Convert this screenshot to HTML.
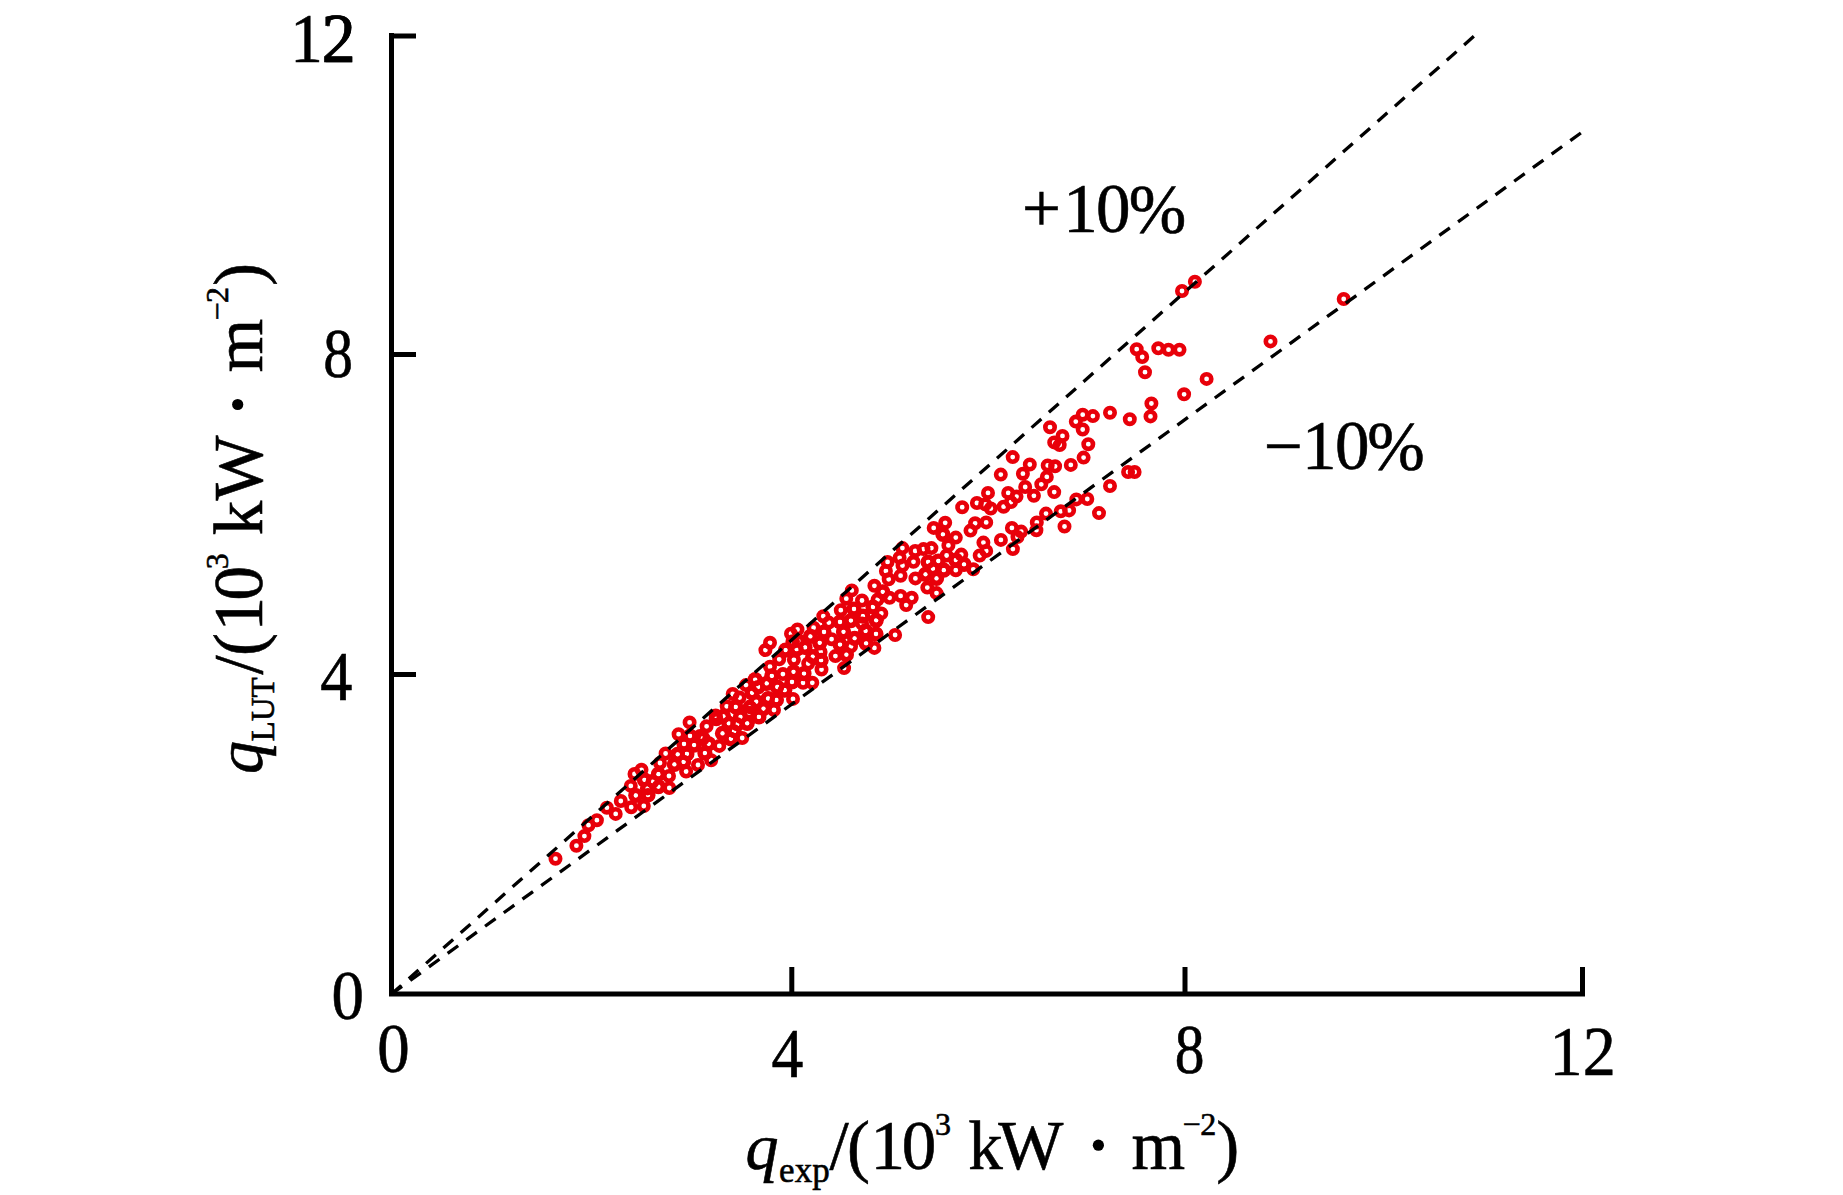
<!DOCTYPE html>
<html><head><meta charset="utf-8"><style>
html,body{margin:0;padding:0;background:#fff;}
body{width:1843px;height:1195px;overflow:hidden;}
svg{display:block;}
text{font-family:"Liberation Serif",serif;fill:#000;stroke:#000;stroke-width:0.6px;-webkit-font-smoothing:antialiased;}
</style></head><body>
<svg width="1843" height="1195" viewBox="0 0 1843 1195">

<path d="M391.5 33 V994 H1585" fill="none" stroke="#000" stroke-width="5" stroke-linejoin="miter"/>
<path d="M389 36 H416 M389 354.5 H416 M389 674.6 H416" stroke="#000" stroke-width="5"/>
<path d="M791.8 967 V994 M1185 967 V994 M1582.5 967 V994" stroke="#000" stroke-width="5"/>

<g fill="#e8000a">
<circle cx="635.8" cy="795.5" r="7.6"/>
<circle cx="647.5" cy="788.4" r="7.6"/>
<circle cx="658.4" cy="786.7" r="7.6"/>
<circle cx="658.4" cy="774.2" r="7.6"/>
<circle cx="648.0" cy="795.0" r="7.6"/>
<circle cx="674.4" cy="764.4" r="7.6"/>
<circle cx="686.9" cy="753.9" r="7.6"/>
<circle cx="704.9" cy="753.1" r="7.6"/>
<circle cx="694.1" cy="745.1" r="7.6"/>
<circle cx="708.7" cy="743.8" r="7.6"/>
<circle cx="700.3" cy="736.7" r="7.6"/>
<circle cx="722.5" cy="733.4" r="7.6"/>
<circle cx="730.9" cy="738.8" r="7.6"/>
<circle cx="728.8" cy="723.3" r="7.6"/>
<circle cx="747.2" cy="723.3" r="7.6"/>
<circle cx="737.2" cy="724.2" r="7.6"/>
<circle cx="683.6" cy="761.8" r="7.6"/>
<circle cx="677.7" cy="754.3" r="7.6"/>
<circle cx="734.1" cy="731.2" r="7.6"/>
<circle cx="740.5" cy="716.9" r="7.6"/>
<circle cx="723.5" cy="716.4" r="7.6"/>
<circle cx="750.2" cy="707.2" r="7.6"/>
<circle cx="756.2" cy="701.7" r="7.6"/>
<circle cx="763.5" cy="708.6" r="7.6"/>
<circle cx="758.9" cy="716.9" r="7.6"/>
<circle cx="758.0" cy="687.0" r="7.6"/>
<circle cx="768.1" cy="698.5" r="7.6"/>
<circle cx="776.4" cy="699.9" r="7.6"/>
<circle cx="777.3" cy="687.0" r="7.6"/>
<circle cx="784.7" cy="690.2" r="7.6"/>
<circle cx="771.8" cy="675.9" r="7.6"/>
<circle cx="793.5" cy="671.8" r="7.6"/>
<circle cx="804.0" cy="673.6" r="7.6"/>
<circle cx="812.8" cy="656.6" r="7.6"/>
<circle cx="821.1" cy="660.3" r="7.6"/>
<circle cx="846.4" cy="654.7" r="7.6"/>
<circle cx="796.7" cy="649.2" r="7.6"/>
<circle cx="805.0" cy="647.4" r="7.6"/>
<circle cx="819.7" cy="642.8" r="7.6"/>
<circle cx="840.0" cy="644.6" r="7.6"/>
<circle cx="785.6" cy="650.1" r="7.6"/>
<circle cx="793.0" cy="641.8" r="7.6"/>
<circle cx="755.2" cy="679.6" r="7.6"/>
<circle cx="703.0" cy="738.5" r="7.6"/>
<circle cx="798.4" cy="641.0" r="7.6"/>
<circle cx="810.4" cy="636.4" r="7.6"/>
<circle cx="866.1" cy="643.3" r="7.6"/>
<circle cx="843.5" cy="631.8" r="7.6"/>
<circle cx="865.6" cy="630.9" r="7.6"/>
<circle cx="862.9" cy="616.2" r="7.6"/>
<circle cx="876.2" cy="620.3" r="7.6"/>
<circle cx="873.0" cy="607.0" r="7.6"/>
<circle cx="882.7" cy="591.8" r="7.6"/>
<circle cx="925.5" cy="574.3" r="7.6"/>
<circle cx="932.9" cy="568.7" r="7.6"/>
<circle cx="936.5" cy="578.4" r="7.6"/>
<circle cx="854.6" cy="638.3" r="7.6"/>
<circle cx="928.1" cy="562.0" r="7.6"/>
<circle cx="938.3" cy="561.0" r="7.6"/>
<circle cx="942.9" cy="534.3" r="7.6"/>
<circle cx="955.8" cy="560.1" r="7.6"/>
<circle cx="964.0" cy="564.3" r="7.6"/>
<circle cx="943.8" cy="570.2" r="7.6"/>
<circle cx="735.7" cy="706.9" r="7.6"/>
<circle cx="749.1" cy="712.7" r="7.6"/>
<circle cx="752.1" cy="692.8" r="7.6"/>
<circle cx="716.3" cy="718.6" r="7.6"/>
<circle cx="766.7" cy="683.4" r="7.6"/>
<circle cx="652.6" cy="781.6" r="7.6"/>
<circle cx="644.4" cy="779.8" r="7.6"/>
<circle cx="850.9" cy="620.6" r="7.6"/>
<circle cx="876.0" cy="634.0" r="7.6"/>
<circle cx="854.0" cy="609.0" r="7.6"/>
<circle cx="824.0" cy="632.0" r="7.6"/>
<circle cx="840.0" cy="622.0" r="7.6"/>
<circle cx="792.0" cy="682.0" r="7.6"/>
<circle cx="684.0" cy="744.0" r="7.6"/>
<circle cx="690.0" cy="736.0" r="7.6"/>
</g>
<g fill="#fff">
<circle cx="635.8" cy="795.5" r="2.4"/>
<circle cx="647.5" cy="788.4" r="2.4"/>
<circle cx="658.4" cy="786.7" r="2.4"/>
<circle cx="658.4" cy="774.2" r="2.4"/>
<circle cx="648.0" cy="795.0" r="2.4"/>
<circle cx="674.4" cy="764.4" r="2.4"/>
<circle cx="686.9" cy="753.9" r="2.4"/>
<circle cx="704.9" cy="753.1" r="2.4"/>
<circle cx="694.1" cy="745.1" r="2.4"/>
<circle cx="708.7" cy="743.8" r="2.4"/>
<circle cx="700.3" cy="736.7" r="2.4"/>
<circle cx="722.5" cy="733.4" r="2.4"/>
<circle cx="730.9" cy="738.8" r="2.4"/>
<circle cx="728.8" cy="723.3" r="2.4"/>
<circle cx="747.2" cy="723.3" r="2.4"/>
<circle cx="737.2" cy="724.2" r="2.4"/>
<circle cx="683.6" cy="761.8" r="2.4"/>
<circle cx="677.7" cy="754.3" r="2.4"/>
<circle cx="734.1" cy="731.2" r="2.4"/>
<circle cx="740.5" cy="716.9" r="2.4"/>
<circle cx="723.5" cy="716.4" r="2.4"/>
<circle cx="750.2" cy="707.2" r="2.4"/>
<circle cx="756.2" cy="701.7" r="2.4"/>
<circle cx="763.5" cy="708.6" r="2.4"/>
<circle cx="758.9" cy="716.9" r="2.4"/>
<circle cx="758.0" cy="687.0" r="2.4"/>
<circle cx="768.1" cy="698.5" r="2.4"/>
<circle cx="776.4" cy="699.9" r="2.4"/>
<circle cx="777.3" cy="687.0" r="2.4"/>
<circle cx="784.7" cy="690.2" r="2.4"/>
<circle cx="771.8" cy="675.9" r="2.4"/>
<circle cx="793.5" cy="671.8" r="2.4"/>
<circle cx="804.0" cy="673.6" r="2.4"/>
<circle cx="812.8" cy="656.6" r="2.4"/>
<circle cx="821.1" cy="660.3" r="2.4"/>
<circle cx="846.4" cy="654.7" r="2.4"/>
<circle cx="796.7" cy="649.2" r="2.4"/>
<circle cx="805.0" cy="647.4" r="2.4"/>
<circle cx="819.7" cy="642.8" r="2.4"/>
<circle cx="840.0" cy="644.6" r="2.4"/>
<circle cx="785.6" cy="650.1" r="2.4"/>
<circle cx="793.0" cy="641.8" r="2.4"/>
<circle cx="755.2" cy="679.6" r="2.4"/>
<circle cx="703.0" cy="738.5" r="2.4"/>
<circle cx="798.4" cy="641.0" r="2.4"/>
<circle cx="810.4" cy="636.4" r="2.4"/>
<circle cx="866.1" cy="643.3" r="2.4"/>
<circle cx="843.5" cy="631.8" r="2.4"/>
<circle cx="865.6" cy="630.9" r="2.4"/>
<circle cx="862.9" cy="616.2" r="2.4"/>
<circle cx="876.2" cy="620.3" r="2.4"/>
<circle cx="873.0" cy="607.0" r="2.4"/>
<circle cx="882.7" cy="591.8" r="2.4"/>
<circle cx="925.5" cy="574.3" r="2.4"/>
<circle cx="932.9" cy="568.7" r="2.4"/>
<circle cx="936.5" cy="578.4" r="2.4"/>
<circle cx="854.6" cy="638.3" r="2.4"/>
<circle cx="928.1" cy="562.0" r="2.4"/>
<circle cx="938.3" cy="561.0" r="2.4"/>
<circle cx="942.9" cy="534.3" r="2.4"/>
<circle cx="955.8" cy="560.1" r="2.4"/>
<circle cx="964.0" cy="564.3" r="2.4"/>
<circle cx="943.8" cy="570.2" r="2.4"/>
<circle cx="735.7" cy="706.9" r="2.4"/>
<circle cx="749.1" cy="712.7" r="2.4"/>
<circle cx="752.1" cy="692.8" r="2.4"/>
<circle cx="716.3" cy="718.6" r="2.4"/>
<circle cx="766.7" cy="683.4" r="2.4"/>
<circle cx="652.6" cy="781.6" r="2.4"/>
<circle cx="644.4" cy="779.8" r="2.4"/>
<circle cx="850.9" cy="620.6" r="2.4"/>
<circle cx="876.0" cy="634.0" r="2.4"/>
<circle cx="854.0" cy="609.0" r="2.4"/>
<circle cx="824.0" cy="632.0" r="2.4"/>
<circle cx="840.0" cy="622.0" r="2.4"/>
<circle cx="792.0" cy="682.0" r="2.4"/>
<circle cx="684.0" cy="744.0" r="2.4"/>
<circle cx="690.0" cy="736.0" r="2.4"/>
</g>
<g fill="none" stroke="#e8000a" stroke-width="4.6">
<circle cx="555.5" cy="858.7" r="4.7"/>
<circle cx="576.4" cy="845.7" r="4.7"/>
<circle cx="584.4" cy="836.1" r="4.7"/>
<circle cx="588.5" cy="825.2" r="4.7"/>
<circle cx="596.9" cy="820.2" r="4.7"/>
<circle cx="606.9" cy="807.7" r="4.7"/>
<circle cx="615.7" cy="813.9" r="4.7"/>
<circle cx="620.8" cy="801.0" r="4.7"/>
<circle cx="631.2" cy="807.2" r="4.7"/>
<circle cx="635.8" cy="795.5" r="4.7"/>
<circle cx="643.8" cy="806.0" r="4.7"/>
<circle cx="630.8" cy="785.9" r="4.7"/>
<circle cx="647.5" cy="788.4" r="4.7"/>
<circle cx="658.4" cy="786.7" r="4.7"/>
<circle cx="669.3" cy="788.0" r="4.7"/>
<circle cx="658.4" cy="774.2" r="4.7"/>
<circle cx="648.0" cy="795.0" r="4.7"/>
<circle cx="641.5" cy="769.8" r="4.7"/>
<circle cx="674.4" cy="764.4" r="4.7"/>
<circle cx="686.1" cy="771.5" r="4.7"/>
<circle cx="665.6" cy="753.5" r="4.7"/>
<circle cx="686.9" cy="753.9" r="4.7"/>
<circle cx="704.9" cy="753.1" r="4.7"/>
<circle cx="694.1" cy="745.1" r="4.7"/>
<circle cx="708.7" cy="743.8" r="4.7"/>
<circle cx="700.3" cy="736.7" r="4.7"/>
<circle cx="678.6" cy="734.2" r="4.7"/>
<circle cx="706.6" cy="726.3" r="4.7"/>
<circle cx="722.5" cy="733.4" r="4.7"/>
<circle cx="730.9" cy="738.8" r="4.7"/>
<circle cx="742.2" cy="738.0" r="4.7"/>
<circle cx="728.8" cy="723.3" r="4.7"/>
<circle cx="747.2" cy="723.3" r="4.7"/>
<circle cx="737.2" cy="724.2" r="4.7"/>
<circle cx="711.2" cy="760.2" r="4.7"/>
<circle cx="683.6" cy="761.8" r="4.7"/>
<circle cx="677.7" cy="754.3" r="4.7"/>
<circle cx="719.3" cy="745.9" r="4.7"/>
<circle cx="734.1" cy="731.2" r="4.7"/>
<circle cx="740.5" cy="716.9" r="4.7"/>
<circle cx="723.5" cy="716.4" r="4.7"/>
<circle cx="715.7" cy="715.5" r="4.7"/>
<circle cx="750.2" cy="707.2" r="4.7"/>
<circle cx="739.6" cy="697.6" r="4.7"/>
<circle cx="756.2" cy="701.7" r="4.7"/>
<circle cx="763.5" cy="708.6" r="4.7"/>
<circle cx="758.9" cy="716.9" r="4.7"/>
<circle cx="746.0" cy="685.1" r="4.7"/>
<circle cx="758.0" cy="687.0" r="4.7"/>
<circle cx="768.1" cy="698.5" r="4.7"/>
<circle cx="776.4" cy="699.9" r="4.7"/>
<circle cx="777.3" cy="687.0" r="4.7"/>
<circle cx="784.7" cy="690.2" r="4.7"/>
<circle cx="793.0" cy="698.9" r="4.7"/>
<circle cx="771.8" cy="675.9" r="4.7"/>
<circle cx="782.9" cy="674.1" r="4.7"/>
<circle cx="793.5" cy="671.8" r="4.7"/>
<circle cx="804.0" cy="673.6" r="4.7"/>
<circle cx="803.1" cy="682.8" r="4.7"/>
<circle cx="812.3" cy="682.8" r="4.7"/>
<circle cx="770.0" cy="666.7" r="4.7"/>
<circle cx="779.2" cy="659.3" r="4.7"/>
<circle cx="793.9" cy="659.8" r="4.7"/>
<circle cx="808.2" cy="663.5" r="4.7"/>
<circle cx="812.8" cy="656.6" r="4.7"/>
<circle cx="821.1" cy="660.3" r="4.7"/>
<circle cx="821.5" cy="669.5" r="4.7"/>
<circle cx="835.4" cy="656.1" r="4.7"/>
<circle cx="846.4" cy="654.7" r="4.7"/>
<circle cx="844.1" cy="668.1" r="4.7"/>
<circle cx="765.4" cy="650.1" r="4.7"/>
<circle cx="770.0" cy="642.8" r="4.7"/>
<circle cx="796.7" cy="649.2" r="4.7"/>
<circle cx="805.0" cy="647.4" r="4.7"/>
<circle cx="819.7" cy="642.8" r="4.7"/>
<circle cx="840.0" cy="644.6" r="4.7"/>
<circle cx="851.0" cy="646.4" r="4.7"/>
<circle cx="820.6" cy="652.0" r="4.7"/>
<circle cx="785.6" cy="650.1" r="4.7"/>
<circle cx="793.0" cy="641.8" r="4.7"/>
<circle cx="755.2" cy="679.6" r="4.7"/>
<circle cx="726.7" cy="706.3" r="4.7"/>
<circle cx="703.0" cy="738.5" r="4.7"/>
<circle cx="791.0" cy="633.7" r="4.7"/>
<circle cx="797.5" cy="629.5" r="4.7"/>
<circle cx="813.6" cy="627.7" r="4.7"/>
<circle cx="798.4" cy="641.0" r="4.7"/>
<circle cx="810.4" cy="636.4" r="4.7"/>
<circle cx="831.6" cy="639.2" r="4.7"/>
<circle cx="866.1" cy="643.3" r="4.7"/>
<circle cx="874.4" cy="647.9" r="4.7"/>
<circle cx="895.1" cy="635.0" r="4.7"/>
<circle cx="928.2" cy="617.1" r="4.7"/>
<circle cx="843.5" cy="631.8" r="4.7"/>
<circle cx="865.6" cy="630.9" r="4.7"/>
<circle cx="862.0" cy="623.5" r="4.7"/>
<circle cx="828.8" cy="622.6" r="4.7"/>
<circle cx="823.3" cy="616.2" r="4.7"/>
<circle cx="840.8" cy="610.2" r="4.7"/>
<circle cx="862.9" cy="616.2" r="4.7"/>
<circle cx="876.2" cy="620.3" r="4.7"/>
<circle cx="873.0" cy="607.0" r="4.7"/>
<circle cx="877.6" cy="599.6" r="4.7"/>
<circle cx="862.0" cy="600.5" r="4.7"/>
<circle cx="846.3" cy="598.7" r="4.7"/>
<circle cx="851.8" cy="590.4" r="4.7"/>
<circle cx="874.4" cy="585.8" r="4.7"/>
<circle cx="882.7" cy="591.8" r="4.7"/>
<circle cx="889.6" cy="597.8" r="4.7"/>
<circle cx="900.6" cy="595.9" r="4.7"/>
<circle cx="911.7" cy="597.8" r="4.7"/>
<circle cx="906.2" cy="605.1" r="4.7"/>
<circle cx="888.7" cy="579.3" r="4.7"/>
<circle cx="900.6" cy="575.7" r="4.7"/>
<circle cx="915.4" cy="578.4" r="4.7"/>
<circle cx="925.5" cy="574.3" r="4.7"/>
<circle cx="932.9" cy="568.7" r="4.7"/>
<circle cx="885.9" cy="571.0" r="4.7"/>
<circle cx="902.5" cy="565.5" r="4.7"/>
<circle cx="913.5" cy="561.8" r="4.7"/>
<circle cx="927.3" cy="587.6" r="4.7"/>
<circle cx="936.5" cy="578.4" r="4.7"/>
<circle cx="936.5" cy="593.1" r="4.7"/>
<circle cx="881.3" cy="613.4" r="4.7"/>
<circle cx="854.6" cy="638.3" r="4.7"/>
<circle cx="899.6" cy="557.8" r="4.7"/>
<circle cx="902.4" cy="548.1" r="4.7"/>
<circle cx="915.2" cy="550.9" r="4.7"/>
<circle cx="923.5" cy="549.1" r="4.7"/>
<circle cx="931.4" cy="548.1" r="4.7"/>
<circle cx="928.1" cy="562.0" r="4.7"/>
<circle cx="938.3" cy="561.0" r="4.7"/>
<circle cx="946.6" cy="555.5" r="4.7"/>
<circle cx="948.4" cy="545.4" r="4.7"/>
<circle cx="955.8" cy="537.6" r="4.7"/>
<circle cx="942.9" cy="534.3" r="4.7"/>
<circle cx="933.7" cy="527.9" r="4.7"/>
<circle cx="945.2" cy="522.8" r="4.7"/>
<circle cx="955.8" cy="560.1" r="4.7"/>
<circle cx="964.0" cy="564.3" r="4.7"/>
<circle cx="973.3" cy="569.3" r="4.7"/>
<circle cx="955.8" cy="570.2" r="4.7"/>
<circle cx="943.8" cy="570.2" r="4.7"/>
<circle cx="961.3" cy="554.6" r="4.7"/>
<circle cx="979.7" cy="555.5" r="4.7"/>
<circle cx="986.2" cy="550.9" r="4.7"/>
<circle cx="983.4" cy="542.6" r="4.7"/>
<circle cx="1000.9" cy="539.9" r="4.7"/>
<circle cx="1012.9" cy="549.1" r="4.7"/>
<circle cx="1011.9" cy="527.9" r="4.7"/>
<circle cx="970.5" cy="530.6" r="4.7"/>
<circle cx="975.1" cy="523.3" r="4.7"/>
<circle cx="986.2" cy="522.4" r="4.7"/>
<circle cx="962.2" cy="507.2" r="4.7"/>
<circle cx="976.9" cy="503.0" r="4.7"/>
<circle cx="985.2" cy="504.4" r="4.7"/>
<circle cx="990.8" cy="508.5" r="4.7"/>
<circle cx="1003.6" cy="506.7" r="4.7"/>
<circle cx="1011.0" cy="502.1" r="4.7"/>
<circle cx="988.0" cy="492.9" r="4.7"/>
<circle cx="1008.2" cy="492.9" r="4.7"/>
<circle cx="1016.5" cy="496.6" r="4.7"/>
<circle cx="1017.5" cy="537.1" r="4.7"/>
<circle cx="887.6" cy="562.0" r="4.7"/>
<circle cx="1000.8" cy="474.6" r="4.7"/>
<circle cx="1012.7" cy="457.1" r="4.7"/>
<circle cx="1022.9" cy="473.7" r="4.7"/>
<circle cx="1029.8" cy="464.5" r="4.7"/>
<circle cx="1025.2" cy="487.0" r="4.7"/>
<circle cx="1033.9" cy="495.8" r="4.7"/>
<circle cx="1041.3" cy="484.3" r="4.7"/>
<circle cx="1046.8" cy="476.9" r="4.7"/>
<circle cx="1047.7" cy="465.4" r="4.7"/>
<circle cx="1055.1" cy="466.3" r="4.7"/>
<circle cx="1054.2" cy="492.1" r="4.7"/>
<circle cx="1070.8" cy="464.9" r="4.7"/>
<circle cx="1083.6" cy="457.6" r="4.7"/>
<circle cx="1088.3" cy="444.2" r="4.7"/>
<circle cx="1050.0" cy="427.2" r="4.7"/>
<circle cx="1054.2" cy="442.4" r="4.7"/>
<circle cx="1062.5" cy="435.9" r="4.7"/>
<circle cx="1059.7" cy="445.1" r="4.7"/>
<circle cx="1075.8" cy="421.6" r="4.7"/>
<circle cx="1082.7" cy="414.7" r="4.7"/>
<circle cx="1092.9" cy="416.1" r="4.7"/>
<circle cx="1082.7" cy="429.5" r="4.7"/>
<circle cx="1087.3" cy="499.0" r="4.7"/>
<circle cx="1076.3" cy="499.4" r="4.7"/>
<circle cx="1046.0" cy="513.6" r="4.7"/>
<circle cx="1060.8" cy="511.3" r="4.7"/>
<circle cx="1099.0" cy="513.1" r="4.7"/>
<circle cx="1069.1" cy="510.4" r="4.7"/>
<circle cx="1064.5" cy="526.5" r="4.7"/>
<circle cx="1110.0" cy="486.0" r="4.7"/>
<circle cx="1036.8" cy="522.4" r="4.7"/>
<circle cx="1036.4" cy="530.2" r="4.7"/>
<circle cx="1021.2" cy="531.6" r="4.7"/>
<circle cx="1110.0" cy="412.7" r="4.7"/>
<circle cx="1129.8" cy="419.2" r="4.7"/>
<circle cx="1151.4" cy="403.5" r="4.7"/>
<circle cx="1150.5" cy="416.4" r="4.7"/>
<circle cx="1184.1" cy="394.3" r="4.7"/>
<circle cx="1145.0" cy="372.2" r="4.7"/>
<circle cx="1142.2" cy="357.0" r="4.7"/>
<circle cx="1136.7" cy="349.2" r="4.7"/>
<circle cx="1158.3" cy="348.3" r="4.7"/>
<circle cx="1168.5" cy="349.7" r="4.7"/>
<circle cx="1179.5" cy="349.7" r="4.7"/>
<circle cx="1194.9" cy="281.7" r="4.7"/>
<circle cx="1182.0" cy="291.0" r="4.7"/>
<circle cx="1270.5" cy="341.4" r="4.7"/>
<circle cx="1206.6" cy="378.9" r="4.7"/>
<circle cx="1343.7" cy="299.0" r="4.7"/>
<circle cx="1128.1" cy="472.0" r="4.7"/>
<circle cx="1134.6" cy="472.0" r="4.7"/>
<circle cx="689.6" cy="722.4" r="4.7"/>
<circle cx="735.7" cy="706.9" r="4.7"/>
<circle cx="749.1" cy="712.7" r="4.7"/>
<circle cx="752.1" cy="692.8" r="4.7"/>
<circle cx="732.7" cy="694.0" r="4.7"/>
<circle cx="716.3" cy="718.6" r="4.7"/>
<circle cx="766.7" cy="683.4" r="4.7"/>
<circle cx="669.0" cy="776.0" r="4.7"/>
<circle cx="652.6" cy="781.6" r="4.7"/>
<circle cx="644.4" cy="779.8" r="4.7"/>
<circle cx="634.5" cy="774.0" r="4.7"/>
<circle cx="850.9" cy="620.6" r="4.7"/>
<circle cx="876.0" cy="634.0" r="4.7"/>
<circle cx="698.0" cy="765.0" r="4.7"/>
<circle cx="854.0" cy="609.0" r="4.7"/>
<circle cx="660.0" cy="763.0" r="4.7"/>
<circle cx="824.0" cy="632.0" r="4.7"/>
<circle cx="840.0" cy="622.0" r="4.7"/>
<circle cx="774.0" cy="710.0" r="4.7"/>
<circle cx="792.0" cy="682.0" r="4.7"/>
<circle cx="684.0" cy="744.0" r="4.7"/>
<circle cx="690.0" cy="736.0" r="4.7"/>
</g>

<path d="M391.5 994 L1474.2 36.0" stroke="#000" stroke-width="3.3" stroke-dasharray="13 10.1" fill="none"/>
<path d="M391.5 994 L1582.5 131.8" stroke="#000" stroke-width="3.3" stroke-dasharray="13 10.1" fill="none"/>

<text x="321.3" y="62.0" font-size="69" style="">2</text>
<text x="290.0" y="62.0" font-size="69" style="" transform="matrix(0.9437 0 0 1 16.67 0)">12</text>
<text x="322.8" y="377.0" font-size="69" style="" transform="matrix(0.8617 0 0 1 45.00 0)">8</text>
<text x="320.1" y="699.6" font-size="69" style="" transform="matrix(0.9322 0 0 1 21.79 0)">4</text>
<text x="331.4" y="1019.0" font-size="69" style="" transform="matrix(0.9404 0 0 1 19.92 0)">0</text>
<text x="377.1" y="1072.4" font-size="69" style="" transform="matrix(0.9404 0 0 1 22.65 0)">0</text>
<text x="771.5" y="1076.7" font-size="69" style="" transform="matrix(0.9229 0 0 1 59.61 0)">4</text>
<text x="1174.5" y="1073.0" font-size="69" style="" transform="matrix(0.8617 0 0 1 162.78 0)">8</text>
<text x="1549.4" y="1074.6" font-size="69" style="" transform="matrix(0.9589 0 0 1 63.88 0)">12</text>
<text x="1022.1" y="231.5" font-size="69" style="">+</text>
<text x="1063.2" y="231.5" font-size="69" style="">1</text>
<text x="1096.1" y="231.8" font-size="69" style="">0</text>
<text x="1128.7" y="232.5" font-size="69" style="">%</text>
<text x="1264.1" y="468.8" font-size="69" style="">−</text>
<text x="1302.1" y="468.8" font-size="69" style="">1</text>
<text x="1335.0" y="469.0" font-size="69" style="">0</text>
<text x="1367.2" y="469.5" font-size="69" style="">%</text>
<text x="745.4" y="1169.0" font-size="66" style="font-style:italic;">q</text>
<text x="779.1" y="1181.5" font-size="35" style="">exp</text>
<text x="829.6" y="1169.0" font-size="69" style="">/</text>
<text x="847.0" y="1169.0" font-size="69" style="">(</text>
<text x="870.4" y="1169.0" font-size="69" style="">1</text>
<text x="901.7" y="1169.0" font-size="69" style="">0</text>
<text x="935.1" y="1135.4" font-size="32" style="">3</text>
<text x="968.2" y="1169.0" font-size="69" style="">k</text>
<text x="998.3" y="1169.0" font-size="69" style="">W</text>
<text x="1131.4" y="1169.0" font-size="69" style="">m</text>
<text x="1182.5" y="1135.4" font-size="32" style="">−</text>
<text x="1200.3" y="1135.4" font-size="32" style="">2</text>
<text x="1216.3" y="1169.0" font-size="69" style="">)</text>
<circle cx="1098.4" cy="1145.2" r="5.6" fill="#000"/>
<g transform="translate(261.5 775) rotate(-90)">
<text x="1.0" y="0.0" font-size="66" style="font-style:italic;">q</text>
<text x="33.6" y="12.5" font-size="33" style="">LUT</text>
<text x="100.5" y="0.0" font-size="69" style="">/</text>
<text x="119.0" y="0.0" font-size="69" style="">(</text>
<text x="143.4" y="0.0" font-size="69" style="">1</text>
<text x="174.5" y="0.0" font-size="69" style="">0</text>
<text x="205.8" y="-33.2" font-size="32" style="">3</text>
<text x="239.7" y="0.0" font-size="69" style="">k</text>
<text x="274.4" y="0.0" font-size="69" style="">W</text>
<text x="402.5" y="0.0" font-size="69" style="">m</text>
<text x="454.4" y="-33.2" font-size="32" style="">−</text>
<text x="472.1" y="-33.2" font-size="32" style="">2</text>
<text x="488.9" y="0.0" font-size="69" style="">)</text>
<circle cx="370.5" cy="-23.8" r="5.6" fill="#000"/>
</g>
</svg>
</body></html>
